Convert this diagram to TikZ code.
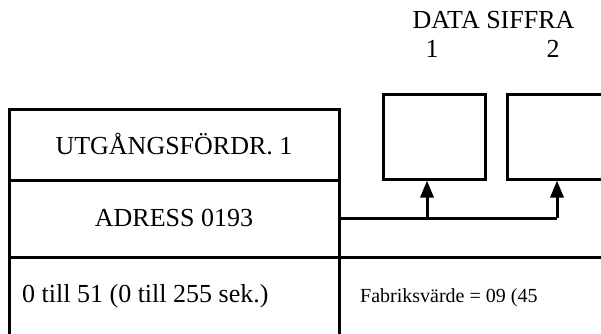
\documentclass[tikz,border=0pt]{standalone}
\usepackage{fontspec}
\setmainfont{Liberation Serif}
\usetikzlibrary{arrows.meta}

\begin{document}
\begin{tikzpicture}[x=1pt, y=-1pt, line join=miter,
    rule/.style={black, line width=3pt},
    digitbox/.style={draw, rule, minimum width=102pt, minimum height=85pt, inner sep=0pt},
    bigtext/.style={font=\fontsize{26}{30}\selectfont, inner sep=0pt, anchor=base},
    smalltext/.style={font=\fontsize{20}{24}\selectfont, inner sep=0pt, anchor=base west},
    feed/.style={rule, -{Triangle[length=17pt, width=13pt]}}]

    % Fix the page size
    \useasboundingbox (0,0) rectangle (601,333);

    % 1. Header over the digit boxes
    \node[bigtext] (head) at (493.5,28) {DATA SIFFRA};
    \node[bigtext] (num1) at (432,57) {1};
    \node[bigtext] (num2) at (553,57) {2};

    % 2. Digit boxes (the second one runs off the page)
    \node[digitbox] (digit1) at (434,136.5) {};
    \node[digitbox, minimum width=120pt] (digit2) at (567,136.5) {};

    % 3. Parameter table
    \draw[rule] (9,345) -- (9,109) -- (339,109) -- (339,345);
    \draw[rule] (9,180) -- (339,180);
    \draw[rule] (9,257) -- (615,257);

    % 4. Table texts
    \node[bigtext] (title) at (174,154) {UTGÅNGSFÖRDR. 1};
    \node[bigtext] (adress) at (174,226) {ADRESS 0193};
    \node[bigtext, anchor=base west] (range) at (22,302) {0 till 51 (0 till 255 sek.)};
    \node[smalltext] (default) at (360,302) {Fabriksvärde = 09 (45};

    % 5. Address line feeding both digits
    \coordinate (adr) at (339,218);
    \coordinate (tap1) at (427,218);
    \coordinate (tap2) at (557,218);
    \draw[rule] (adr) -- (tap2);
    \draw[feed] (tap1) -- (tap1 |- digit1.south);
    \draw[feed] (tap2) -- (tap2 |- digit2.south);

\end{tikzpicture}
\end{document}
